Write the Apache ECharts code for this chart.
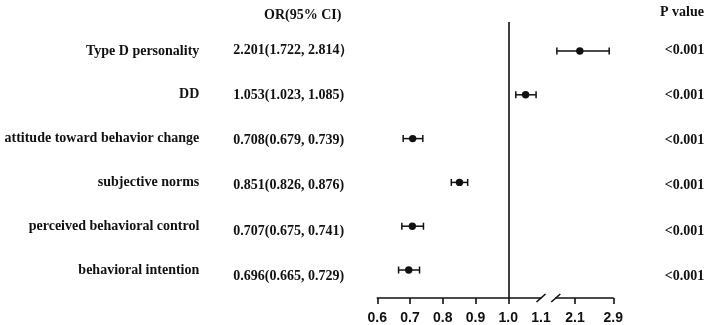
<!DOCTYPE html>
<html>
<head>
<meta charset="utf-8">
<style>html,body{margin:0;padding:0;background:#fff}#c{width:709px;height:325px}</style>
<script src="https://cdn.jsdelivr.net/npm/echarts@6/dist/echarts.min.js"></script>
</head>
<body>
<div id="c"></div>
<script>
const categories = ['Type D personality', 'DD', 'attitude toward behavior change', 'subjective norms', 'perceived behavioral control', 'behavioral intention'];
const orValues = [2.201, 1.053, 0.708, 0.851, 0.707, 0.696];
const ciLower = [1.722, 1.023, 0.679, 0.826, 0.675, 0.665];
const ciUpper = [2.814, 1.085, 0.739, 0.876, 0.741, 0.729];
const orText = ['2.201(1.722, 2.814\uff09', '1.053(1.023, 1.085)', '0.708(0.679, 0.739)', '0.851(0.826, 0.876)', '0.707(0.675, 0.741)', '0.696(0.665, 0.729)'];
const pText = ['<0.001', '<0.001', '<0.001', '<0.001', '<0.001', '<0.001'];
const leftTicks = [0.6, 0.7, 0.8, 0.9, 1.0];
const leftLabels = [0.6, 0.7, 0.8, 0.9, 1.0, 1.1];
const rightTicks = [2.1, 2.9];
const refValue = 1.0;

const serif = "'Times New Roman', 'Liberation Serif', serif";
const sans = "Arial, 'Liberation Sans', sans-serif";
const ink = '#111';
const rowIdx = categories.map((_, i) => i);

function rowsFor(pred) {
  return rowIdx.filter(pred).map(i => [orValues[i], i, ciLower[i], ciUpper[i]]);
}
function renderForest(params, api) {
  const y = api.value(1);
  const c = api.coord([api.value(0), y]);
  const l = api.coord([api.value(2), y]);
  const h = api.coord([api.value(3), y]);
  const st = { stroke: ink, lineWidth: 1.5 };
  return {
    type: 'group',
    children: [
      { type: 'line', shape: { x1: l[0], y1: l[1], x2: h[0], y2: h[1] }, style: st },
      { type: 'line', shape: { x1: l[0], y1: l[1] - 3.5, x2: l[0], y2: l[1] + 3.5 }, style: st },
      { type: 'line', shape: { x1: h[0], y1: h[1] - 3.5, x2: h[0], y2: h[1] + 3.5 }, style: st },
      { type: 'circle', shape: { cx: c[0], cy: c[1], r: 3.7 }, style: { fill: ink } }
    ]
  };
}

const rowMin = -0.662, rowMax = 5.639;
const txtMin = -0.632, txtMax = 5.488;
const BREAK = 1.1;

const xAxisCommon = {
  type: 'value', splitLine: { show: false },
  axisLine: { show: true, onZero: false, lineStyle: { color: ink, width: 1.6 } },
  axisTick: { show: true, inside: false, length: 6, lineStyle: { color: ink, width: 1.6 } },
  axisLabel: { formatter: v => v.toFixed(1), margin: 13, fontFamily: sans, fontWeight: 'bold', fontSize: 14, color: ink }
};

const chart = echarts.init(document.getElementById('c'), null, { renderer: 'canvas' });
chart.setOption({
  animation: false,
  backgroundColor: '#fff',
  title: [
    { text: 'OR(95% CI)', left: 259, top: 3, textStyle: { fontFamily: serif, fontWeight: 'bold', fontSize: 14, color: ink } },
    { text: 'P value', right: 0, top: 0, textStyle: { fontFamily: serif, fontWeight: 'bold', fontSize: 14, color: ink } }
  ],
  grid: [
    { left: 377.3, width: 163.7, top: 22, height: 276 },
    { left: 555.8, width: 57.5, top: 22, height: 276 }
  ],
  xAxis: [
    Object.assign({}, xAxisCommon, {
      gridIndex: 0, min: 0.6, max: BREAK,
      axisTick: Object.assign({}, xAxisCommon.axisTick, { customValues: leftTicks }),
      axisLabel: Object.assign({}, xAxisCommon.axisLabel, { customValues: leftLabels })
    }),
    Object.assign({}, xAxisCommon, {
      gridIndex: 1, min: 1.7, max: 2.9,
      axisTick: Object.assign({}, xAxisCommon.axisTick, { customValues: rightTicks }),
      axisLabel: Object.assign({}, xAxisCommon.axisLabel, { customValues: rightTicks })
    })
  ],
  yAxis: [
    {
      gridIndex: 0, type: 'value', inverse: true, min: rowMin, max: rowMax, position: 'left',
      axisLine: { show: false }, axisTick: { show: false }, splitLine: { show: false },
      axisLabel: { customValues: rowIdx, formatter: v => categories[v], margin: 178, fontFamily: serif, fontWeight: 'bold', fontSize: 14, color: ink }
    },
    {
      gridIndex: 0, type: 'value', inverse: true, min: txtMin, max: txtMax, position: 'left',
      axisLine: { show: false }, axisTick: { show: false }, splitLine: { show: false },
      axisLabel: { customValues: rowIdx, formatter: v => orText[v], align: 'left', margin: 144, fontFamily: serif, fontWeight: 'bold', fontSize: 14, color: ink }
    },
    {
      gridIndex: 1, type: 'value', inverse: true, min: rowMin, max: rowMax, show: false
    },
    {
      gridIndex: 1, type: 'value', inverse: true, min: txtMin, max: txtMax, position: 'right',
      axisLine: { show: false }, axisTick: { show: false }, splitLine: { show: false },
      axisLabel: { customValues: rowIdx, formatter: v => pText[v], align: 'left', margin: 51.5, fontFamily: serif, fontWeight: 'bold', fontSize: 14, color: ink }
    }
  ],
  series: [
    {
      type: 'custom', xAxisIndex: 0, yAxisIndex: 0, renderItem: renderForest,
      data: rowsFor(i => orValues[i] <= BREAK),
      markLine: {
        silent: true, symbol: 'none', label: { show: false },
        lineStyle: { color: ink, width: 1.6, type: 'solid' },
        data: [{ xAxis: refValue }]
      }
    },
    {
      type: 'custom', xAxisIndex: 1, yAxisIndex: 2, renderItem: renderForest,
      data: rowsFor(i => orValues[i] > BREAK)
    }
  ]
});

// axis break marks at the junction of the two axes
const pL = chart.convertToPixel({ xAxisIndex: 0, yAxisIndex: 0 }, [BREAK, rowMax]);
const pR = chart.convertToPixel({ xAxisIndex: 1, yAxisIndex: 2 }, [1.7, rowMax]);
function slash(x, y) {
  return { type: 'line', shape: { x1: x - 4.5, y1: y + 4, x2: x + 4.5, y2: y - 4 }, style: { stroke: ink, lineWidth: 1.6 } };
}
chart.setOption({ graphic: [slash(pL[0], pL[1]), slash(pR[0], pR[1])] });
</script>
</body>
</html>
